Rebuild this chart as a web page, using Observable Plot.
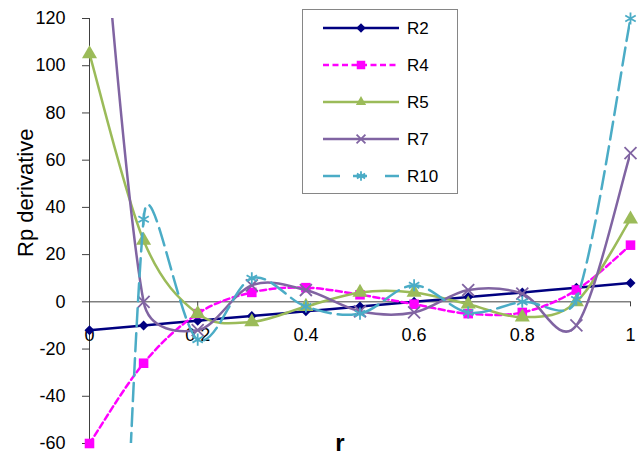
<!DOCTYPE html>
<html>
<head>
<meta charset="utf-8">
<script src="https://cdn.jsdelivr.net/npm/d3@7"></script>
<script src="https://cdn.jsdelivr.net/npm/@observablehq/plot@0.6"></script>
<style>
  html, body { margin: 0; padding: 0; background: #fff; }
  #wrap { position: relative; width: 643px; height: 463px; font-family: "Liberation Sans", Arial, sans-serif; }
  #legend { position: absolute; left: 302px; top: 9px; }
</style>
</head>
<body>
<div id="wrap"><div id="chart"></div><svg id="legend" width="156" height="185"></svg></div>
<script>
// ---- data ----
const r = [0, 0.1, 0.2, 0.3, 0.4, 0.5, 0.6, 0.7, 0.8, 0.9, 1.0];
const R2  = [-12, -10, -8, -6, -4, -2, 0, 2, 4, 6, 8];
const R4  = [-60, -26, -5, 4, 6, 3, -1, -5, -4.5, 5, 24];
const R5  = [105, 26, -5, -8.5, -2, 4, 4, -1, -6.5, 0, 35];
const R7  = [230, 0, -12, 7, 5, -4, -4.5, 5, 3.5, -10, 63];
const R10 = [-550, 35, -16, 10, -2, -5, 7, -4.5, 0, 1, 120];

const seriesNames = ["R2", "R4", "R5", "R7", "R10"];
const seriesValues = [R2, R4, R5, R7, R10];
const seriesColors = ["#000080", "#FF00FF", "#9BBB59", "#8064A2", "#4BACC6"];
const seriesDash = [null, "6,3.5", null, null, "18,7"];
const legendDash = [null, "6,3.5", null, null, "17,13,14,18,14"];
const seriesSymbols = ["diamond2", "square", "triangle", "times", "asterisk"];
const seriesFilled = [true, true, true, false, false];
const seriesR = [4.5, 5.4, 5.6, 5.5, 5.7];
const legendR = [4.3, 4.8, 3.8, 4.1, 4.5];

const xTicks = [0, 0.2, 0.4, 0.6, 0.8, 1];
const xTickLabels = ["0", "0.2", "0.4", "0.6", "0.8", "1"];
const yTicks = [-60, -40, -20, 0, 20, 40, 60, 80, 100, 120];
const yTickLabels = ["-60", "-40", "-20", "0", "20", "40", "60", "80", "100", "120"];
const xLabel = "r";
const yLabel = "Rp derivative";

// Spreadsheet-style smoothed line: Bezier segments whose control arms are
// (P2-P0)/6, limited to half the segment length (computed in screen space).
function curveSmoothSheet(context) {
  let pts = [];
  const dist = (a, b) => Math.hypot(b[0] - a[0], b[1] - a[1]);
  return {
    areaStart() {}, areaEnd() {},
    lineStart() { pts = []; },
    point(x, y) { pts.push([+x, +y]); },
    lineEnd() {
      const n = pts.length;
      if (!n) return;
      context.moveTo(pts[0][0], pts[0][1]);
      for (let i = 0; i < n - 1; i++) {
        const p0 = pts[Math.max(i - 1, 0)], p1 = pts[i], p2 = pts[i + 1], p3 = pts[Math.min(i + 2, n - 1)];
        const d12 = dist(p1, p2), d02 = dist(p0, p2), d13 = dist(p1, p3);
        const f0 = (d02 === 0 || d02 / 6 < d12 / 2) ? 1 / 6 : d12 / d02 / 2;
        const f1 = (d13 === 0 || d13 / 6 < d12 / 2) ? 1 / 6 : d12 / d13 / 2;
        const c1x = p1[0] + (p2[0] - p0[0]) * f0, c1y = p1[1] + (p2[1] - p0[1]) * f0;
        const c2x = p2[0] - (p3[0] - p1[0]) * f1, c2y = p2[1] - (p3[1] - p1[1]) * f1;
        context.bezierCurveTo(c1x, c1y, c2x, c2y, p2[0], p2[1]);
      }
    }
  };
}

// ---- table ----
const table = seriesNames.flatMap((name, k) =>
  r.map((x, i) => ({series: name, k, x, y: seriesValues[k][i]})));

const seriesMarks = seriesNames.flatMap((name, k) => {
  const rows = table.filter(d => d.series === name);
  const dot = seriesFilled[k]
    ? {fill: seriesColors[k], stroke: "none"}
    : {fill: "none", stroke: seriesColors[k], strokeWidth: 1.8};
  return [
    Plot.line(rows, {x: "x", y: "y", stroke: seriesColors[k], strokeWidth: 2.5,
      strokeDasharray: seriesDash[k] ?? undefined, curve: curveSmoothSheet, clip: true}),
    Plot.dot(rows, {x: "x", y: "y", symbol: () => seriesSymbols[k], r: seriesR[k], ...dot,
      filter: d => d.y >= -60 && d.y <= 120})
  ];
});

const chart = Plot.plot({
  width: 643,
  height: 463,
  marginLeft: 89,
  marginRight: 13,
  marginTop: 18,
  marginBottom: 20,
  x: {domain: [0, 1]},
  y: {domain: [-60, 120]},
  symbol: {type: "identity"},
  style: {fontFamily: "'Liberation Sans', Arial, sans-serif", fontSize: "18px", background: "#fff", color: "#000"},
  marks: [
    Plot.ruleX([0], {stroke: "#404040", strokeWidth: 1}),
    Plot.ruleY([0], {stroke: "#404040", strokeWidth: 1}),
    Plot.axisY(yTicks, {tickSize: 7, tickPadding: 17, tickFormat: (d) => yTickLabels[yTicks.indexOf(d)],
      label: null, stroke: "#404040", fill: "#000", fontSize: 18}),
    Plot.ruleX(xTicks, {x: d => d, y1: 0, y2: 0, insetBottom: -5, stroke: "#404040"}),
    Plot.text(xTicks, {x: d => d, y: 0, dy: 33, text: (d, i) => xTickLabels[i], fontSize: 18, fill: "#000"}),
    Plot.axisX({ticks: [], label: null}),
    ...seriesMarks,
    Plot.text([yLabel], {frameAnchor: "left", rotate: -90, dx: -64, dy: 26, fontSize: 22, fill: "#000"}),
    Plot.text([xLabel], {frameAnchor: "bottom", dx: -20, dy: 7, fontSize: 24, fontWeight: "bold", fill: "#000"})
  ]
});
document.getElementById("chart").appendChild(chart);

// ---- legend ----
const lg = d3.select("#legend");
lg.append("rect").attr("x", 0.5).attr("y", 0.5).attr("width", 155).attr("height", 184)
  .attr("fill", "#fff").attr("stroke", "#868686");
const symMap = {diamond2: d3.symbolDiamond2, square: d3.symbolSquare, triangle: d3.symbolTriangle,
  times: d3.symbolTimes, asterisk: d3.symbolAsterisk};
seriesNames.forEach((name, k) => {
  const y = 19 + k * 37;
  const g = lg.append("g").attr("transform", `translate(0,${y})`);
  g.append("line").attr("x1", 21).attr("x2", 97).attr("y1", 0).attr("y2", 0)
    .attr("stroke", seriesColors[k]).attr("stroke-width", 2.5)
    .attr("stroke-dasharray", legendDash[k]);
  const p = g.append("path").attr("transform", "translate(59,0)")
    .attr("d", d3.symbol(symMap[seriesSymbols[k]], Math.PI * legendR[k] ** 2)());
  if (seriesFilled[k]) p.attr("fill", seriesColors[k]);
  else p.attr("fill", "none").attr("stroke", seriesColors[k]).attr("stroke-width", 1.8);
  g.append("text").attr("x", 105).attr("y", 0).attr("dy", "0.35em")
    .attr("font-size", 17).attr("fill", "#000").text(name);
});
</script>
</body>
</html>
